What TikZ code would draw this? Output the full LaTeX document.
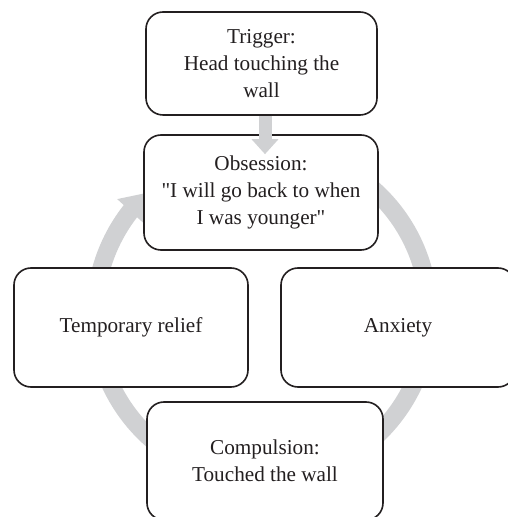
\documentclass[tikz,border=0pt]{standalone}
\usepackage{fontspec}
\setmainfont{Liberation Serif}[Ligatures=TeXOff]
\usetikzlibrary{arrows.meta,bending}

\definecolor{cyclegray}{RGB}{208,209,211}
\definecolor{inkgray}{RGB}{35,31,32}

\begin{document}
\begin{tikzpicture}[x=1pt,y=1pt,
    stage/.style={draw=inkgray,line width=1.6pt,fill=white,rounded corners=17pt,
      align=center,text=inkgray,inner sep=0pt,font=\fontsize{21.2}{27}\selectfont},
  ]
    \useasboundingbox (0,0) rectangle (507,517);

    % Continuous cycle ring behind the stages.
    \coordinate (hub) at (262,203);
    \draw[cyclegray,line width=18pt,-{Triangle[width=34pt,length=25pt]}]
      (hub) ++(100:167) arc[start angle=100,end angle=-226.6,radius=167];

    % Stages of the cycle.
    \node[stage,minimum width=231pt,minimum height=103pt] (trigger) at (261.5,453.5) {Trigger:\\Head touching the\\wall};
    \node[stage,minimum width=234pt,minimum height=115pt] (obsession) at (261,324.5) {Obsession:\\"I will go back to when\\I was younger"};
    \node[stage,minimum width=234pt,minimum height=119pt] (relief) at (131,189.5) {Temporary relief};
    \node[stage,minimum width=234pt,minimum height=119pt] (anxiety) at (398,189.5) {Anxiety};
    \node[stage,minimum width=236pt,minimum height=118pt] (compulsion) at (265,56) {Compulsion:\\Touched the wall};

    % Trigger feeding the obsession.
    \draw[cyclegray,line width=13pt,-{Triangle[width=26pt,length=15pt]}]
      ([xshift=3.5pt]trigger.south) -- ([xshift=4pt,yshift=-20pt]obsession.north);
\end{tikzpicture}
\end{document}
